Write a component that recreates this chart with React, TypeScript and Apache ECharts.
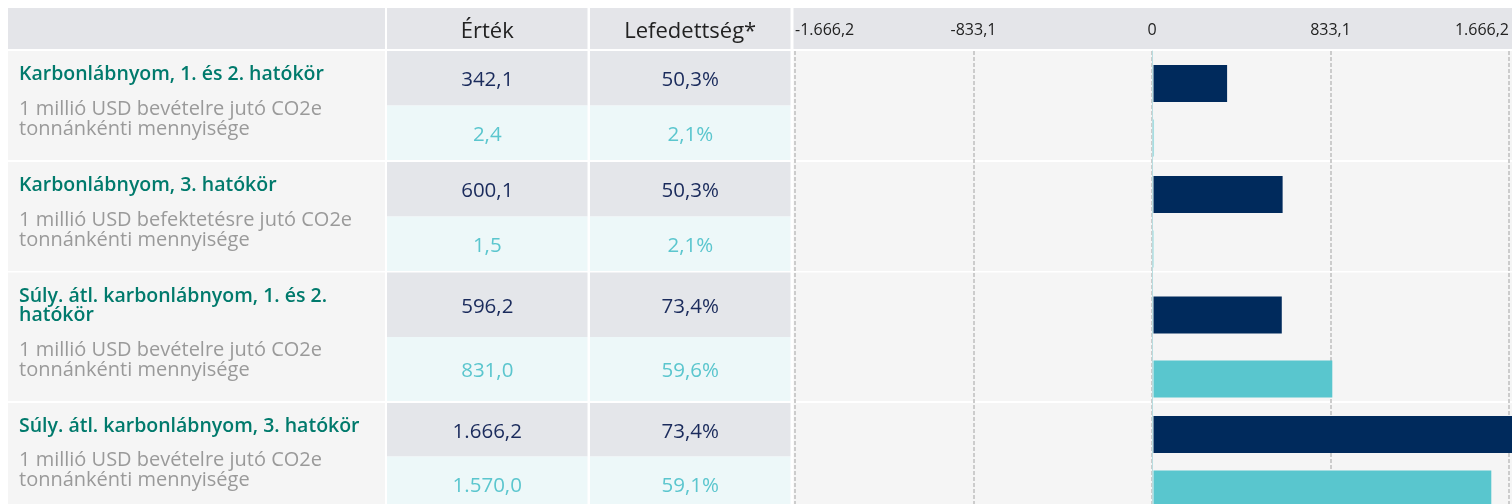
import React, { useEffect, useRef } from "react";
import * as echarts from "echarts";

// ---- data ----
const headerLabels = ["Érték", "Lefedettség*"];
const titles = [
  "Karbonlábnyom, 1. és 2. hatókör",
  "Karbonlábnyom, 3. hatókör",
  "Súly. átl. karbonlábnyom, 1. és 2.\nhatókör",
  "Súly. átl. karbonlábnyom, 3. hatókör",
];
const subtitles = [
  "1 millió USD bevételre jutó CO2e\ntonnánkénti mennyisége",
  "1 millió USD befektetésre jutó CO2e\ntonnánkénti mennyisége",
  "1 millió USD bevételre jutó CO2e\ntonnánkénti mennyisége",
  "1 millió USD bevételre jutó CO2e\ntonnánkénti mennyisége",
];
const fundValues = [342.1, 600.1, 596.2, 1666.2];
const fundCoverage = [50.3, 50.3, 73.4, 73.4];
const benchValues = [2.4, 1.5, 831.0, 1570.0];
const benchCoverage = [2.1, 2.1, 59.6, 59.1];
const axisMin = -1666.2;
const axisMax = 1666.2;
const axisInterval = 833.1;

// ---- layout (page coordinates; the chart div covers the whole window) ----
const W = 1512;
const H = 504;
const COL1 = [8, 385];
const COL2 = [387, 587.5];
const COL3 = [590, 790.5];
const CHART = [793.5, 1530];
const HEADER = [8, 49];
const groups = [
  { top: 51, split: 105.5, bottom: 160 },
  { top: 162, split: 216.5, bottom: 271 },
  { top: 272.5, split: 337, bottom: 401 },
  { top: 403, split: 456.5, bottom: 511 },
];
const GRID_LEFT = 795;
const GRID_WIDTH = 721;
const BAR_H = 37;
const BAR_GAP = 3.5;

const C = {
  header: "#e4e5e9",
  col1: "#f5f5f5",
  dark: "#e4e6ea",
  light: "#edf8f9",
  chartBg: "#f5f5f5",
  title: "#007a6c",
  sub: "#9a9a9a",
  darkText: "#1a2b5c",
  lightText: "#5bc6ce",
  barDark: "#002a5c",
  barLight: "#59c6ce",
  headText: "#222222",
  grid: "#cccccc",
  zero: "#b9dde0",
};
const FONT = "'Open Sans', 'Noto Sans', sans-serif";

function huNum(v: number, d = 1): string {
  if (Math.abs(v) < 1e-6) return "0";
  const neg = v < 0;
  const s = Math.abs(v).toFixed(d);
  const parts = s.split(".");
  const int = parts[0].replace(/\B(?=(\d{3})+(?!\d))/g, ".");
  return (neg ? "-" : "") + int + (parts[1] ? "," + parts[1] : "");
}

function rect(x0: number, x1: number, y0: number, y1: number, fill: string) {
  return {
    type: "rect",
    z: -10,
    silent: true,
    shape: { x: x0, y: y0, width: x1 - x0, height: y1 - y0 },
    style: { fill },
  };
}

function txt(x: number, y: number, text: string, style: any) {
  return {
    type: "text",
    z: 10,
    silent: true,
    x,
    y,
    style: { text, fontFamily: FONT, ...style },
  };
}

export default function App() {
  const ref = useRef<HTMLDivElement>(null);
  useEffect(() => {
    if (!ref.current) return;
    const chart = echarts.init(ref.current, undefined, { renderer: "svg" });

    const graphics: any[] = [];
    graphics.push(rect(COL1[0], COL1[1], HEADER[0], HEADER[1], C.header));
    graphics.push(rect(COL2[0], COL2[1], HEADER[0], HEADER[1], C.header));
    graphics.push(rect(COL3[0], COL3[1], HEADER[0], HEADER[1], C.header));
    graphics.push(rect(CHART[0], CHART[1], HEADER[0], HEADER[1], C.header));
    const hc = (HEADER[0] + HEADER[1]) / 2 + 0.5;
    const mid2 = (COL2[0] + COL2[1]) / 2;
    const mid3 = (COL3[0] + COL3[1]) / 2;
    graphics.push(
      txt(mid2, hc, headerLabels[0], {
        fontSize: 22, fill: C.headText, align: "center", verticalAlign: "middle",
      })
    );
    graphics.push(
      txt(mid3, hc, headerLabels[1], {
        fontSize: 22, fill: C.headText, align: "center", verticalAlign: "middle",
      })
    );

    groups.forEach((g, i) => {
      graphics.push(rect(COL1[0], COL1[1], g.top, g.bottom, C.col1));
      graphics.push(rect(COL2[0], COL2[1], g.top, g.split, C.dark));
      graphics.push(rect(COL3[0], COL3[1], g.top, g.split, C.dark));
      graphics.push(rect(COL2[0], COL2[1], g.split, g.bottom, C.light));
      graphics.push(rect(COL3[0], COL3[1], g.split, g.bottom, C.light));
      graphics.push(rect(CHART[0], CHART[1], g.top, g.bottom, C.chartBg));

      graphics.push(
        txt(19, g.top + 12, titles[i], {
          fontSize: 19.5, fontWeight: 600, fill: C.title, verticalAlign: "top",
          lineHeight: 19,
        })
      );
      graphics.push(
        txt(19, g.bottom - 22.5, subtitles[i], {
          fontSize: 20, fill: C.sub, verticalAlign: "bottom",
          lineHeight: 20,
        })
      );
      const dc = (g.top + g.split) / 2;
      const lc = (g.split + g.bottom) / 2;
      graphics.push(txt(mid2, dc, huNum(fundValues[i]), { fontSize: 20.5, fill: C.darkText, align: "center", verticalAlign: "middle" }));
      graphics.push(txt(mid3, dc, huNum(fundCoverage[i]) + "%", { fontSize: 20.5, fill: C.darkText, align: "center", verticalAlign: "middle" }));
      graphics.push(txt(mid2, lc, huNum(benchValues[i]), { fontSize: 20.5, fill: C.lightText, align: "center", verticalAlign: "middle" }));
      graphics.push(txt(mid3, lc, huNum(benchCoverage[i]) + "%", { fontSize: 20.5, fill: C.lightText, align: "center", verticalAlign: "middle" }));
    });

    const grids: any[] = [];
    const xAxes: any[] = [];
    const yAxes: any[] = [];
    const series: any[] = [];

    grids.push({ left: GRID_LEFT, width: GRID_WIDTH, top: 51, bottom: 0 });
    xAxes.push({
      type: "value", gridIndex: 0, position: "top",
      min: axisMin, max: axisMax, interval: axisInterval,
      axisLine: { show: false }, axisTick: { show: false },
      axisLabel: {
        margin: 14, fontSize: 16, color: C.headText, fontFamily: FONT,
        formatter: (v: number) => huNum(v),
        alignMinLabel: "left", alignMaxLabel: "right",
      },
      splitLine: { show: true, lineStyle: { color: C.grid, width: 2, type: [4, 2] } },
    });
    yAxes.push({
      type: "category", gridIndex: 0, data: ["x"],
      axisLine: { show: true, onZero: true, lineStyle: { color: C.zero, width: 1 } },
      axisTick: { show: false }, axisLabel: { show: false }, splitLine: { show: false },
    });

    const rows: { value: number; bottom: number; color: string }[] = [];
    groups.forEach((g, i) => {
      rows.push({ value: fundValues[i], bottom: g.split, color: C.barDark });
      rows.push({ value: benchValues[i], bottom: g.bottom, color: C.barLight });
    });
    rows.forEach((r, k) => {
      const idx = k + 1;
      grids.push({ left: GRID_LEFT, width: GRID_WIDTH, top: r.bottom - BAR_GAP - BAR_H, height: BAR_H });
      xAxes.push({ type: "value", gridIndex: idx, min: axisMin, max: axisMax, interval: axisInterval, show: false, splitLine: { show: false } });
      yAxes.push({ type: "category", gridIndex: idx, data: ["v"], show: false });
      series.push({
        type: "bar", xAxisIndex: idx, yAxisIndex: idx, barWidth: BAR_H,
        data: [r.value], itemStyle: { color: r.color }, silent: true, z: 5,
      });
    });

    chart.setOption({
      animation: false,
      grid: grids,
      xAxis: xAxes,
      yAxis: yAxes,
      series,
      graphic: { elements: graphics },
    });
    return () => {
      chart.dispose();
    };
  }, []);
  return (
    <div
      ref={ref}
      style={{ position: "fixed", left: 0, top: 0, width: W, height: H }}
    />
  );
}
